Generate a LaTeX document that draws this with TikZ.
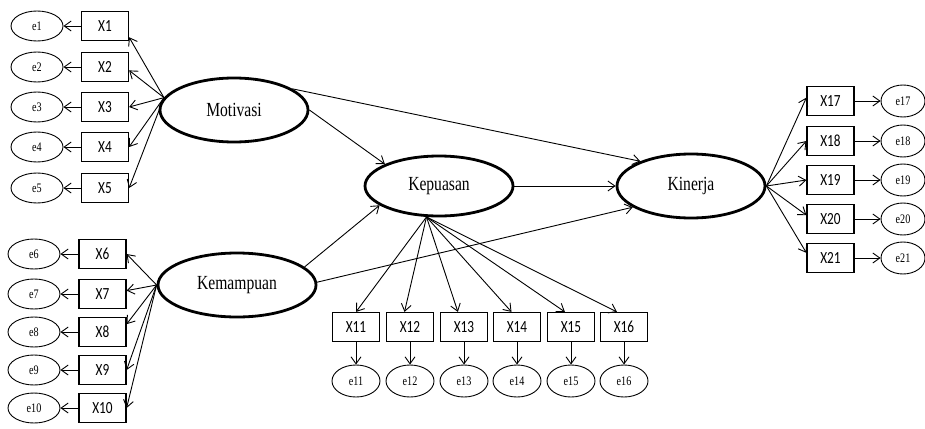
\documentclass[tikz,border=0pt]{standalone}
\usepackage{graphicx}
\usepackage{fontspec}
\setmainfont{Liberation Serif}
\newfontfamily\carlitofam{Carlito}
\usetikzlibrary{shapes.geometric,arrows.meta}
\newcommand{\hsq}[1]{\scalebox{0.78}[1]{#1}}
\tikzset{
  obs/.style={draw, line width=1.2pt, rectangle, minimum width=47pt, minimum height=29pt, inner sep=0pt,
    font=\carlitofam\fontsize{17}{17}\selectfont},
  err/.style={draw, line width=0.9pt, ellipse, minimum width=52pt, minimum height=30pt, inner sep=0pt,
    font=\fontsize{13}{13}\selectfont},
  errb/.style={err, minimum width=48pt, minimum height=32pt},
  errr/.style={err, minimum width=44pt, minimum height=32pt},
  lat/.style={draw, line width=2.8pt, ellipse, minimum width=148pt, minimum height=64pt, inner sep=0pt,
    font=\fontsize{20}{20}\selectfont},
  arr/.style={-{Straight Barb[length=7pt,width=10pt]}, line width=0.9pt},
}
\begin{document}
\begin{tikzpicture}[x=1pt,y=-1pt]
\useasboundingbox (0,0) rectangle (925,428);
% latent variables
\node[lat] (Mot) at (234,110) {\hsq{Motivasi}};
\node[lat, minimum width=158pt] (Kem) at (237,285) {\hsq{Kemampuan}};
\node[lat, minimum height=60pt] (Kep) at (439,186) {\hsq{Kepuasan}};
\node[lat] (Kin) at (691,186) {\hsq{Kinerja}};
% Motivasi indicators
\foreach \i/\y in {1/26,2/67,3/107,4/147,5/188}{
  \node[obs] (X\i) at (105,\y) {\hsq{X\i}};
  \node[err] (e\i) at (37,\y) {\hsq{e\i}};
  \draw[arr] (X\i.west) -- (e\i.east);
}
\draw[arr] (Mot.170) -- (X1.-25);
\draw[arr] (Mot.170) -- (X2.-8);
\draw[arr] (Mot.170) -- (X3.east);
\draw[arr] (Mot.170) -- (X4.east);
\draw[arr] (Mot.170) -- (X5.east);
% Kemampuan indicators
\foreach \i/\y in {6/254,7/294,8/332,9/370,10/408}{
  \node[obs] (X\i) at (102.5,\y) {\hsq{X\i}};
  \node[err] (e\i) at (34,\y) {\hsq{e\i}};
  \draw[arr] (X\i.west) -- (e\i.east);
}
\draw[arr] (Kem.west) -- (X6.east);
\draw[arr] (Kem.west) -- (X7.8);
\draw[arr] (Kem.west) -- (X8.18);
\draw[arr] (Kem.west) -- (X9.east);
\draw[arr] (Kem.west) -- (X10.east);
% Kepuasan indicators
\foreach \i/\x in {11/356,12/410,13/464,14/517,15/571,16/624}{
  \node[obs] (X\i) at (\x,327) {\hsq{X\i}};
  \node[errb] (e\i) at (\x,381) {\hsq{e\i}};
  \draw[arr] (X\i.south) -- (e\i.north);
}
\draw[arr] (Kep.248) -- (X11.north);
\draw[arr] (Kep.248) -- (X12.110);
\draw[arr] (Kep.248) -- (X13.112);
\draw[arr] (Kep.248) -- (X14.110);
\draw[arr] (Kep.248) -- (X15.112);
\draw[arr] (Kep.248) -- (X16.115);
% Kinerja indicators
\foreach \i/\y in {17/101,18/141,19/180,20/219,21/258}{
  \node[obs] (X\i) at (830.5,\y) {\hsq{X\i}};
  \node[errr] (e\i) at (903,\y) {\hsq{e\i}};
  \draw[arr] (X\i.east) -- (e\i.west);
}
\draw[arr] (Kin.east) -- (X17.172);
\draw[arr] (Kin.east) -- (X18.west);
\draw[arr] (Kin.east) -- (X19.west);
\draw[arr] (Kin.east) -- (X20.171);
\draw[arr] (Kin.east) -- (X21.168);
% structural paths
\draw[arr] (Mot.20) -- (Kin.154);
\draw[arr] (Mot.east) -- (Kep.158);
\draw[arr] (Kem.15) -- (Kep.198);
\draw[arr] (Kem.2) -- (Kin.200);
\draw[arr] (Kep.east) -- (Kin.west);
\end{tikzpicture}
\end{document}
